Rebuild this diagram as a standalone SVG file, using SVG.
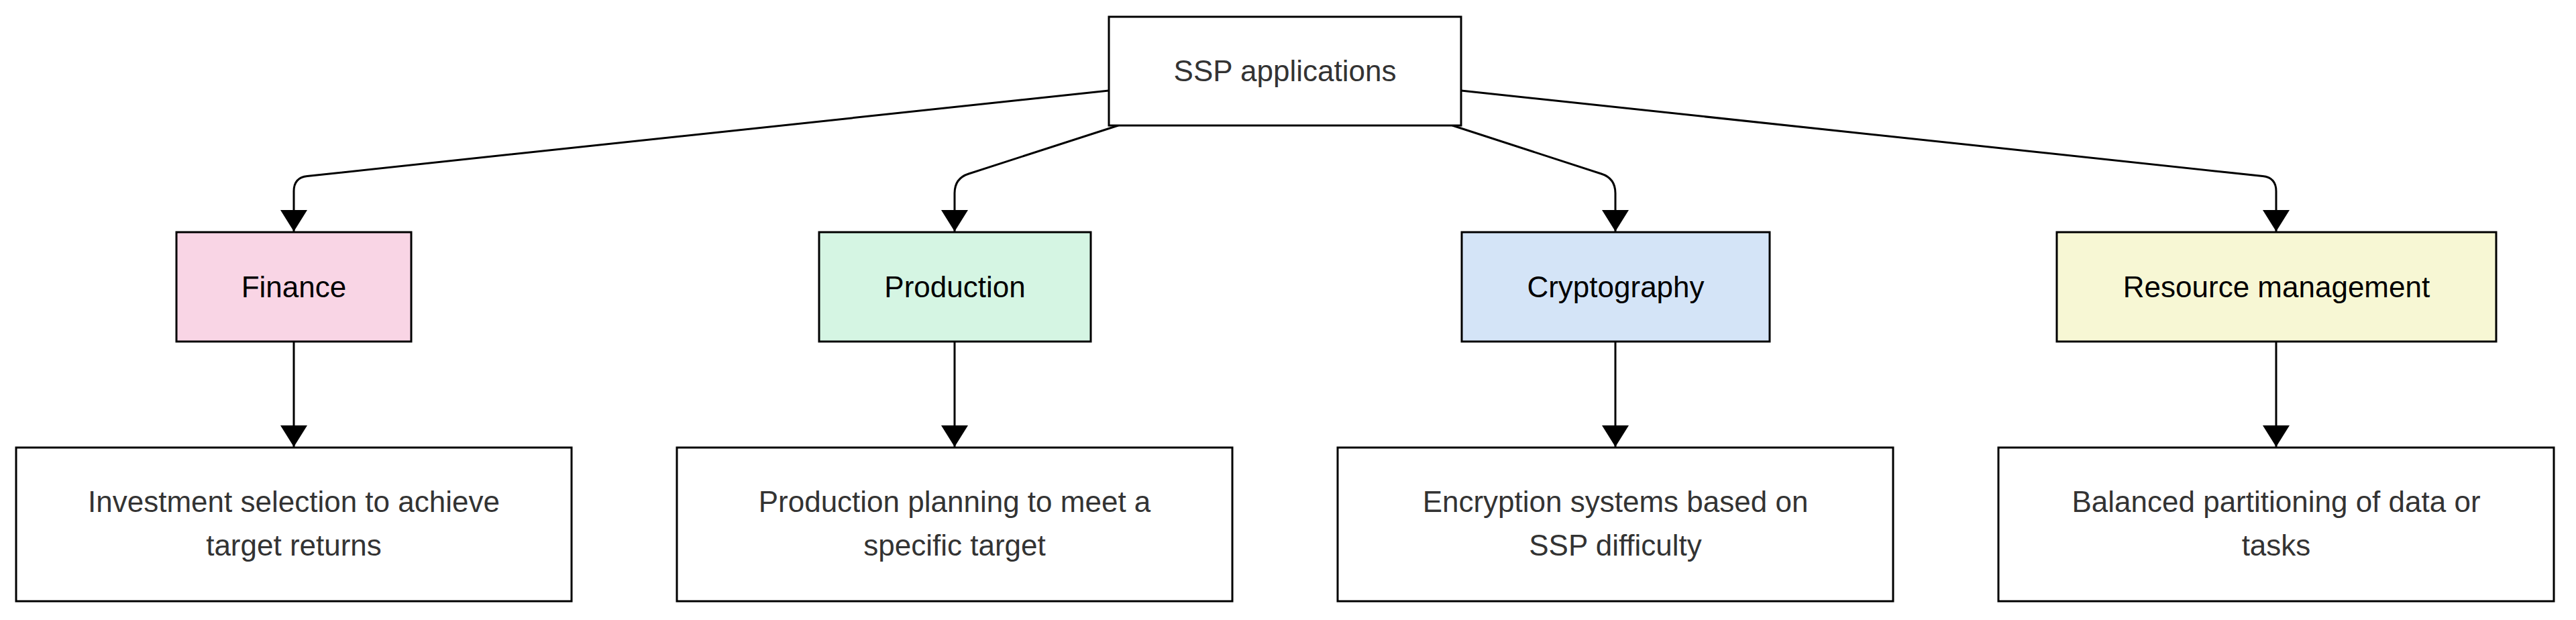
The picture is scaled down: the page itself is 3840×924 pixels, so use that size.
<svg xmlns="http://www.w3.org/2000/svg" width="3840" height="924" viewBox="0 0 3840 924">
<style>
  .box { stroke: #000; stroke-width: 3; }
  .t { font-family: "Liberation Sans", Arial, sans-serif; font-size: 44px; text-anchor: middle; }
  .dark { fill: #333333; }
  .blk { fill: #000000; }
  .edge { fill: none; stroke: #000; stroke-width: 3; marker-end: url(#arr); }
</style>
<defs>
  <marker id="arr" markerUnits="userSpaceOnUse" viewBox="0 0 32 40" markerWidth="32" markerHeight="40" refX="32" refY="20" orient="auto">
    <path d="M0,0 L32,20 L0,40 z" fill="#000"/>
  </marker>
</defs>
<rect x="0" y="0" width="3840" height="924" fill="#ffffff"/>
<g id="connectors">
  <path class="edge" d="M1653,135 L458,262.5 Q438,264.6 438,285 L438,345"/>
  <path class="edge" d="M1667,187 L1444,259 Q1423,265.7 1423,288 L1423,345"/>
  <path class="edge" d="M2165,187 L2387,259 Q2408,265.7 2408,288 L2408,345"/>
  <path class="edge" d="M2178,135 L3373,262.5 Q3393,264.6 3393,285 L3393,345"/>
  <path class="edge" d="M438,509 L438,666"/>
  <path class="edge" d="M1423,509 L1423,666"/>
  <path class="edge" d="M2408,509 L2408,666"/>
  <path class="edge" d="M3393,509 L3393,666"/>
</g>
<g id="root">
  <rect class="box" x="1653" y="25" width="525" height="162" fill="#ffffff"/>
  <text class="t dark" x="1915.5" y="121">SSP applications</text>
</g>
<g id="finance">
  <rect class="box" x="263" y="346" width="350" height="163" fill="#f9d5e5"/>
  <text class="t blk" x="438" y="443">Finance</text>
</g>
<g id="production">
  <rect class="box" x="1221" y="346" width="405" height="163" fill="#d5f5e3"/>
  <text class="t blk" x="1423.5" y="443">Production</text>
</g>
<g id="cryptography">
  <rect class="box" x="2179" y="346" width="459" height="163" fill="#d4e4f7"/>
  <text class="t blk" x="2408.5" y="443">Cryptography</text>
</g>
<g id="resource">
  <rect class="box" x="3066" y="346" width="655" height="163" fill="#f7f7d4"/>
  <text class="t blk" x="3393.5" y="443">Resource management</text>
</g>
<g id="finance-app">
  <rect class="box" x="24" y="667" width="828" height="229" fill="#ffffff"/>
  <text class="t dark" x="438" y="763">Investment selection to achieve</text>
  <text class="t dark" x="438" y="828">target returns</text>
</g>
<g id="production-app">
  <rect class="box" x="1009" y="667" width="828" height="229" fill="#ffffff"/>
  <text class="t dark" x="1423" y="763">Production planning to meet a</text>
  <text class="t dark" x="1423" y="828">specific target</text>
</g>
<g id="crypto-app">
  <rect class="box" x="1994" y="667" width="828" height="229" fill="#ffffff"/>
  <text class="t dark" x="2408" y="763">Encryption systems based on</text>
  <text class="t dark" x="2408" y="828">SSP difficulty</text>
</g>
<g id="resource-app">
  <rect class="box" x="2979" y="667" width="828" height="229" fill="#ffffff"/>
  <text class="t dark" x="3393" y="763">Balanced partitioning of data or</text>
  <text class="t dark" x="3393" y="828">tasks</text>
</g>
</svg>
